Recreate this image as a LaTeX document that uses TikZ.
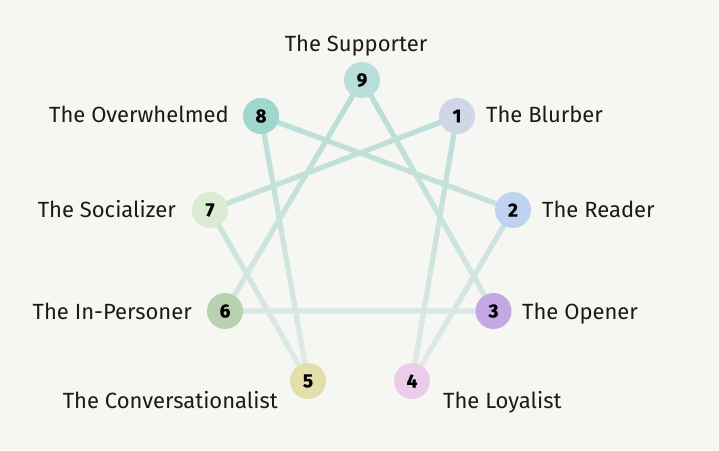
\documentclass[tikz,border=0pt]{standalone}
\usepackage{fontspec}
\setmainfont{Fira Sans}
\newfontfamily\numfont{Fira Sans}[BoldFeatures={FakeBold=0.6}]
\usetikzlibrary{calc}
\definecolor{bg}{HTML}{F6F6F2}
\definecolor{lntop}{HTML}{B6DCD6}
\definecolor{lnbot}{HTML}{E2EAE7}
\definecolor{c9}{HTML}{B9DFDA}
\definecolor{c8}{HTML}{A0D7CD}
\definecolor{c1}{HTML}{CFD6E6}
\definecolor{c2}{HTML}{BFD3F1}
\definecolor{c3}{HTML}{C3A8E3}
\definecolor{c4}{HTML}{EBCDE9}
\definecolor{c5}{HTML}{E4DFAA}
\definecolor{c6}{HTML}{B8D2B2}
\definecolor{c7}{HTML}{D9EBD0}
\definecolor{ink}{HTML}{1A1A1A}
\tikzset{
  num/.style={circle, minimum size=36pt, inner sep=0pt, text=black, font=\numfont\bfseries\fontsize{19}{19}\selectfont},
  lab/.style={inner sep=0pt, text=ink, font=\fontsize{22}{22}\selectfont},
}
\newcommand{\band}[2]{($(#1)!2.6pt!90:(#2)$) -- ($(#2)!2.6pt!-90:(#1)$) -- ($(#2)!2.6pt!90:(#1)$) -- ($(#1)!2.6pt!-90:(#2)$) -- cycle}
\begin{document}
\begin{tikzpicture}[x=1pt,y=-1pt]
\fill[bg] (0,0) rectangle (719,450);
\useasboundingbox (0,0) rectangle (719,450);
% centres
\coordinate (p9) at (362,80);
\coordinate (p8) at (261,116);
\coordinate (p1) at (457,116);
\coordinate (p7) at (210,210);
\coordinate (p2) at (513,210);
\coordinate (p6) at (225,311);
\coordinate (p3) at (493.5,311);
\coordinate (p5) at (308,381);
\coordinate (p4) at (412,381);
% connectors
\shade[top color=lntop, bottom color=lnbot]
  \band{p9}{p3} \band{p3}{p6} \band{p6}{p9}
  \band{p1}{p4} \band{p4}{p2} \band{p2}{p8}
  \band{p8}{p5} \band{p5}{p7} \band{p7}{p1};
% circles
\node[num, fill=c9] (n9) at (p9) {9};
\node[num, fill=c8] (n8) at (p8) {8};
\node[num, fill=c1] (n1) at (p1) {1};
\node[num, fill=c7] (n7) at (p7) {7};
\node[num, fill=c2] (n2) at (p2) {2};
\node[num, fill=c6] (n6) at (p6) {6};
\node[num, fill=c3] (n3) at (p3) {3};
\node[num, fill=c5] (n5) at (p5) {5};
\node[num, fill=c4] (n4) at (p4) {4};
% labels
\node[lab, anchor=base] (l9) at (356,51) {The Supporter};
\node[lab, anchor=base east] (l8) at (229,122) {The Overwhelmed};
\node[lab, anchor=base west] (l1) at (486,122) {The Blurber};
\node[lab, anchor=base east] (l7) at (176,217) {The Socializer};
\node[lab, anchor=base west] (l2) at (542,217) {The Reader};
\node[lab, anchor=base east] (l6) at (192,319) {The In-Personer};
\node[lab, anchor=base west] (l3) at (522,319) {The Opener};
\node[lab, anchor=base east] (l5) at (278,408) {The Conversationalist};
\node[lab, anchor=base west] (l4) at (443,408) {The Loyalist};
\end{tikzpicture}
\end{document}
